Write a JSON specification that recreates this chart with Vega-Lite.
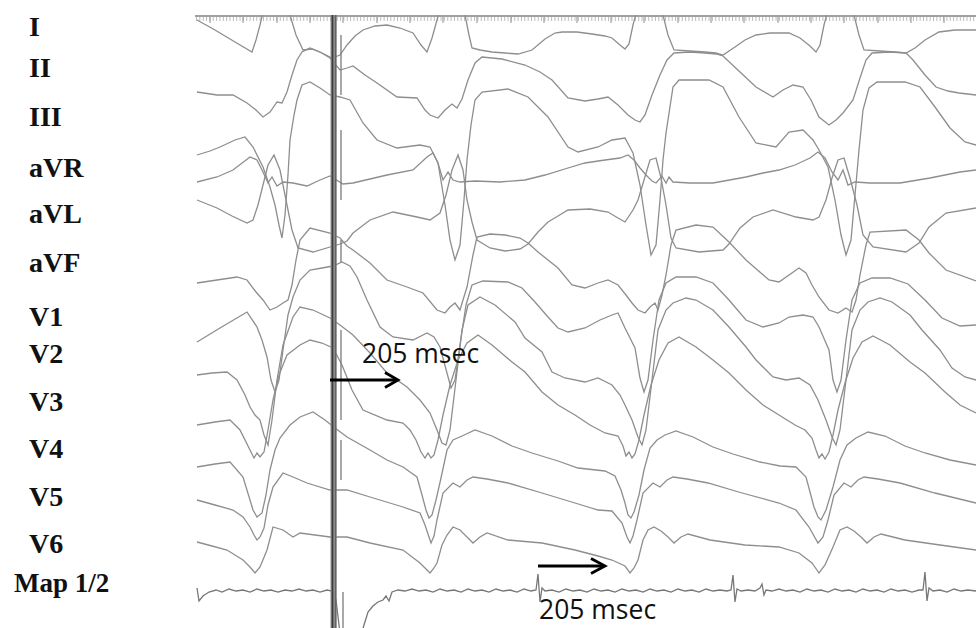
{
"$schema": "https://vega.github.io/schema/vega-lite/v6.json",
"width": 781, "height": 613,
"autosize": {"type": "none"},
"padding": {"left": 195, "top": 15, "right": 0, "bottom": 0},
"background": "white",
"config": {"view": {"stroke": null}},
"data": {"values": [{"one": 1}]},
"datasets": {
"ecg": [
{"s":"I","t":197,"v":20},{"s":"I","t":215,"v":30},{"s":"I","t":235,"v":42},{"s":"I","t":252,"v":52},{"s":"I","t":256,"v":40},{"s":"I","t":260,"v":25},{"s":"I","t":264,"v":8},{"s":"I","t":268,"v":-5},{"s":"I","t":284,"v":-5},{"s":"I","t":290,"v":15},{"s":"I","t":296,"v":35},{"s":"I","t":303,"v":50},{"s":"I","t":312,"v":49},{"s":"I","t":322,"v":53},{"s":"I","t":332,"v":58},{"s":"I","t":340,"v":55},{"s":"I","t":347,"v":45},{"s":"I","t":355,"v":36},{"s":"I","t":363,"v":30},{"s":"I","t":375,"v":26},{"s":"I","t":387,"v":25},{"s":"I","t":400,"v":28},{"s":"I","t":413,"v":33},{"s":"I","t":421,"v":45},{"s":"I","t":427,"v":52},{"s":"I","t":432,"v":38},{"s":"I","t":437,"v":20},{"s":"I","t":441,"v":5},{"s":"I","t":445,"v":-5},{"s":"I","t":460,"v":-5},{"s":"I","t":465,"v":15},{"s":"I","t":469,"v":35},{"s":"I","t":472,"v":48},{"s":"I","t":480,"v":50},{"s":"I","t":492,"v":52},{"s":"I","t":505,"v":53},{"s":"I","t":518,"v":54},{"s":"I","t":532,"v":50},{"s":"I","t":545,"v":39},{"s":"I","t":555,"v":33},{"s":"I","t":562,"v":32},{"s":"I","t":577,"v":32},{"s":"I","t":592,"v":34},{"s":"I","t":605,"v":36},{"s":"I","t":612,"v":38},{"s":"I","t":620,"v":45},{"s":"I","t":625,"v":49},{"s":"I","t":629,"v":44},{"s":"I","t":633,"v":25},{"s":"I","t":637,"v":10},{"s":"I","t":640,"v":-5},{"s":"I","t":657,"v":-5},{"s":"I","t":663,"v":15},{"s":"I","t":668,"v":35},{"s":"I","t":674,"v":50},{"s":"I","t":690,"v":51},{"s":"I","t":705,"v":52},{"s":"I","t":716,"v":53},{"s":"I","t":723,"v":55},{"s":"I","t":735,"v":47},{"s":"I","t":745,"v":40},{"s":"I","t":756,"v":35},{"s":"I","t":770,"v":33},{"s":"I","t":789,"v":33},{"s":"I","t":800,"v":38},{"s":"I","t":810,"v":46},{"s":"I","t":816,"v":52},{"s":"I","t":820,"v":45},{"s":"I","t":824,"v":25},{"s":"I","t":828,"v":10},{"s":"I","t":831,"v":-5},{"s":"I","t":850,"v":-5},{"s":"I","t":854,"v":15},{"s":"I","t":859,"v":35},{"s":"I","t":864,"v":50},{"s":"I","t":880,"v":51},{"s":"I","t":895,"v":52},{"s":"I","t":906,"v":53},{"s":"I","t":915,"v":48},{"s":"I","t":925,"v":40},{"s":"I","t":939,"v":32},{"s":"I","t":955,"v":30},{"s":"I","t":976,"v":30},
{"s":"II","t":197,"v":92},{"s":"II","t":217,"v":95},{"s":"II","t":233,"v":95},{"s":"II","t":247,"v":103},{"s":"II","t":256,"v":110},{"s":"II","t":263,"v":117},{"s":"II","t":270,"v":112},{"s":"II","t":277,"v":102},{"s":"II","t":282,"v":103},{"s":"II","t":287,"v":92},{"s":"II","t":292,"v":75},{"s":"II","t":297,"v":60},{"s":"II","t":302,"v":52},{"s":"II","t":310,"v":48},{"s":"II","t":320,"v":52},{"s":"II","t":330,"v":58},{"s":"II","t":340,"v":70},{"s":"II","t":347,"v":68},{"s":"II","t":353,"v":66},{"s":"II","t":365,"v":75},{"s":"II","t":377,"v":83},{"s":"II","t":397,"v":97},{"s":"II","t":417,"v":98},{"s":"II","t":425,"v":110},{"s":"II","t":430,"v":115},{"s":"II","t":438,"v":118},{"s":"II","t":445,"v":110},{"s":"II","t":452,"v":104},{"s":"II","t":457,"v":108},{"s":"II","t":462,"v":99},{"s":"II","t":468,"v":80},{"s":"II","t":475,"v":63},{"s":"II","t":482,"v":57},{"s":"II","t":502,"v":59},{"s":"II","t":525,"v":65},{"s":"II","t":540,"v":72},{"s":"II","t":552,"v":80},{"s":"II","t":568,"v":98},{"s":"II","t":585,"v":101},{"s":"II","t":598,"v":99},{"s":"II","t":608,"v":97},{"s":"II","t":618,"v":105},{"s":"II","t":628,"v":115},{"s":"II","t":635,"v":120},{"s":"II","t":640,"v":122},{"s":"II","t":645,"v":115},{"s":"II","t":652,"v":95},{"s":"II","t":660,"v":75},{"s":"II","t":667,"v":60},{"s":"II","t":674,"v":53},{"s":"II","t":690,"v":52},{"s":"II","t":705,"v":53},{"s":"II","t":716,"v":54},{"s":"II","t":723,"v":56},{"s":"II","t":740,"v":72},{"s":"II","t":756,"v":87},{"s":"II","t":773,"v":97},{"s":"II","t":783,"v":90},{"s":"II","t":793,"v":85},{"s":"II","t":803,"v":87},{"s":"II","t":811,"v":100},{"s":"II","t":819,"v":117},{"s":"II","t":829,"v":125},{"s":"II","t":836,"v":120},{"s":"II","t":843,"v":113},{"s":"II","t":853,"v":100},{"s":"II","t":860,"v":78},{"s":"II","t":866,"v":60},{"s":"II","t":872,"v":53},{"s":"II","t":890,"v":52},{"s":"II","t":906,"v":53},{"s":"II","t":913,"v":60},{"s":"II","t":925,"v":75},{"s":"II","t":936,"v":87},{"s":"II","t":948,"v":91},{"s":"II","t":959,"v":93},{"s":"II","t":976,"v":95},
{"s":"III","t":197,"v":155},{"s":"III","t":210,"v":151},{"s":"III","t":220,"v":147},{"s":"III","t":235,"v":140},{"s":"III","t":245,"v":137},{"s":"III","t":253,"v":147},{"s":"III","t":263,"v":167},{"s":"III","t":270,"v":187},{"s":"III","t":275,"v":205},{"s":"III","t":279,"v":225},{"s":"III","t":282,"v":238},{"s":"III","t":285,"v":215},{"s":"III","t":288,"v":175},{"s":"III","t":290,"v":140},{"s":"III","t":294,"v":115},{"s":"III","t":297,"v":100},{"s":"III","t":302,"v":85},{"s":"III","t":310,"v":82},{"s":"III","t":320,"v":88},{"s":"III","t":330,"v":95},{"s":"III","t":340,"v":97},{"s":"III","t":350,"v":100},{"s":"III","t":363,"v":123},{"s":"III","t":377,"v":140},{"s":"III","t":397,"v":148},{"s":"III","t":420,"v":145},{"s":"III","t":430,"v":147},{"s":"III","t":438,"v":163},{"s":"III","t":445,"v":205},{"s":"III","t":450,"v":240},{"s":"III","t":455,"v":260},{"s":"III","t":460,"v":245},{"s":"III","t":464,"v":200},{"s":"III","t":467,"v":160},{"s":"III","t":471,"v":125},{"s":"III","t":475,"v":100},{"s":"III","t":482,"v":92},{"s":"III","t":508,"v":89},{"s":"III","t":528,"v":97},{"s":"III","t":548,"v":117},{"s":"III","t":568,"v":147},{"s":"III","t":578,"v":152},{"s":"III","t":598,"v":147},{"s":"III","t":612,"v":140},{"s":"III","t":625,"v":138},{"s":"III","t":633,"v":153},{"s":"III","t":640,"v":185},{"s":"III","t":646,"v":225},{"s":"III","t":651,"v":255},{"s":"III","t":656,"v":245},{"s":"III","t":660,"v":200},{"s":"III","t":663,"v":160},{"s":"III","t":666,"v":133},{"s":"III","t":673,"v":87},{"s":"III","t":679,"v":80},{"s":"III","t":709,"v":80},{"s":"III","t":723,"v":87},{"s":"III","t":739,"v":117},{"s":"III","t":756,"v":143},{"s":"III","t":776,"v":147},{"s":"III","t":789,"v":132},{"s":"III","t":803,"v":130},{"s":"III","t":813,"v":140},{"s":"III","t":819,"v":150},{"s":"III","t":828,"v":167},{"s":"III","t":835,"v":200},{"s":"III","t":841,"v":235},{"s":"III","t":846,"v":255},{"s":"III","t":851,"v":240},{"s":"III","t":855,"v":195},{"s":"III","t":859,"v":150},{"s":"III","t":863,"v":110},{"s":"III","t":869,"v":88},{"s":"III","t":877,"v":82},{"s":"III","t":905,"v":82},{"s":"III","t":920,"v":87},{"s":"III","t":935,"v":107},{"s":"III","t":950,"v":128},{"s":"III","t":965,"v":142},{"s":"III","t":976,"v":145},
{"s":"aVR","t":197,"v":182},{"s":"aVR","t":217,"v":177},{"s":"aVR","t":233,"v":170},{"s":"aVR","t":250,"v":157},{"s":"aVR","t":257,"v":160},{"s":"aVR","t":263,"v":172},{"s":"aVR","t":268,"v":183},{"s":"aVR","t":272,"v":177},{"s":"aVR","t":277,"v":186},{"s":"aVR","t":283,"v":182},{"s":"aVR","t":293,"v":183},{"s":"aVR","t":307,"v":186},{"s":"aVR","t":320,"v":180},{"s":"aVR","t":330,"v":176},{"s":"aVR","t":343,"v":184},{"s":"aVR","t":353,"v":183},{"s":"aVR","t":370,"v":179},{"s":"aVR","t":387,"v":175},{"s":"aVR","t":413,"v":170},{"s":"aVR","t":427,"v":157},{"s":"aVR","t":433,"v":153},{"s":"aVR","t":438,"v":163},{"s":"aVR","t":443,"v":180},{"s":"aVR","t":448,"v":172},{"s":"aVR","t":453,"v":180},{"s":"aVR","t":460,"v":182},{"s":"aVR","t":475,"v":181},{"s":"aVR","t":500,"v":182},{"s":"aVR","t":525,"v":180},{"s":"aVR","t":545,"v":175},{"s":"aVR","t":568,"v":168},{"s":"aVR","t":585,"v":163},{"s":"aVR","t":605,"v":160},{"s":"aVR","t":620,"v":158},{"s":"aVR","t":628,"v":155},{"s":"aVR","t":634,"v":160},{"s":"aVR","t":640,"v":168},{"s":"aVR","t":646,"v":175},{"s":"aVR","t":652,"v":181},{"s":"aVR","t":656,"v":183},{"s":"aVR","t":662,"v":176},{"s":"aVR","t":666,"v":183},{"s":"aVR","t":669,"v":177},{"s":"aVR","t":673,"v":182},{"s":"aVR","t":690,"v":183},{"s":"aVR","t":713,"v":183},{"s":"aVR","t":746,"v":177},{"s":"aVR","t":763,"v":173},{"s":"aVR","t":779,"v":170},{"s":"aVR","t":795,"v":165},{"s":"aVR","t":810,"v":158},{"s":"aVR","t":818,"v":152},{"s":"aVR","t":825,"v":158},{"s":"aVR","t":832,"v":172},{"s":"aVR","t":838,"v":180},{"s":"aVR","t":843,"v":170},{"s":"aVR","t":848,"v":185},{"s":"aVR","t":855,"v":182},{"s":"aVR","t":870,"v":183},{"s":"aVR","t":900,"v":183},{"s":"aVR","t":930,"v":178},{"s":"aVR","t":960,"v":172},{"s":"aVR","t":976,"v":170},
{"s":"aVL","t":197,"v":200},{"s":"aVL","t":217,"v":208},{"s":"aVL","t":232,"v":216},{"s":"aVL","t":247,"v":223},{"s":"aVL","t":253,"v":220},{"s":"aVL","t":258,"v":205},{"s":"aVL","t":263,"v":185},{"s":"aVL","t":268,"v":165},{"s":"aVL","t":274,"v":155},{"s":"aVL","t":280,"v":170},{"s":"aVL","t":286,"v":200},{"s":"aVL","t":292,"v":230},{"s":"aVL","t":298,"v":248},{"s":"aVL","t":313,"v":252},{"s":"aVL","t":330,"v":247},{"s":"aVL","t":340,"v":244},{"s":"aVL","t":347,"v":241},{"s":"aVL","t":353,"v":233},{"s":"aVL","t":370,"v":220},{"s":"aVL","t":393,"v":212},{"s":"aVL","t":417,"v":217},{"s":"aVL","t":430,"v":220},{"s":"aVL","t":440,"v":213},{"s":"aVL","t":446,"v":195},{"s":"aVL","t":452,"v":170},{"s":"aVL","t":458,"v":155},{"s":"aVL","t":463,"v":170},{"s":"aVL","t":467,"v":200},{"s":"aVL","t":472,"v":222},{"s":"aVL","t":477,"v":240},{"s":"aVL","t":490,"v":248},{"s":"aVL","t":505,"v":251},{"s":"aVL","t":520,"v":249},{"s":"aVL","t":528,"v":244},{"s":"aVL","t":538,"v":232},{"s":"aVL","t":548,"v":222},{"s":"aVL","t":558,"v":216},{"s":"aVL","t":568,"v":210},{"s":"aVL","t":590,"v":209},{"s":"aVL","t":608,"v":212},{"s":"aVL","t":618,"v":218},{"s":"aVL","t":625,"v":222},{"s":"aVL","t":633,"v":210},{"s":"aVL","t":638,"v":200},{"s":"aVL","t":644,"v":180},{"s":"aVL","t":650,"v":160},{"s":"aVL","t":656,"v":158},{"s":"aVL","t":661,"v":178},{"s":"aVL","t":666,"v":205},{"s":"aVL","t":671,"v":238},{"s":"aVL","t":676,"v":248},{"s":"aVL","t":699,"v":252},{"s":"aVL","t":723,"v":250},{"s":"aVL","t":729,"v":244},{"s":"aVL","t":740,"v":228},{"s":"aVL","t":753,"v":217},{"s":"aVL","t":773,"v":210},{"s":"aVL","t":796,"v":217},{"s":"aVL","t":813,"v":220},{"s":"aVL","t":819,"v":217},{"s":"aVL","t":826,"v":200},{"s":"aVL","t":832,"v":178},{"s":"aVL","t":838,"v":160},{"s":"aVL","t":844,"v":158},{"s":"aVL","t":850,"v":178},{"s":"aVL","t":857,"v":205},{"s":"aVL","t":863,"v":235},{"s":"aVL","t":873,"v":247},{"s":"aVL","t":906,"v":252},{"s":"aVL","t":919,"v":243},{"s":"aVL","t":929,"v":227},{"s":"aVL","t":946,"v":213},{"s":"aVL","t":976,"v":208},
{"s":"aVF","t":197,"v":283},{"s":"aVF","t":217,"v":280},{"s":"aVF","t":237,"v":277},{"s":"aVF","t":247,"v":280},{"s":"aVF","t":256,"v":292},{"s":"aVF","t":263,"v":300},{"s":"aVF","t":270,"v":310},{"s":"aVF","t":277,"v":307},{"s":"aVF","t":283,"v":303},{"s":"aVF","t":288,"v":300},{"s":"aVF","t":292,"v":285},{"s":"aVF","t":296,"v":260},{"s":"aVF","t":300,"v":240},{"s":"aVF","t":310,"v":228},{"s":"aVF","t":330,"v":233},{"s":"aVF","t":340,"v":238},{"s":"aVF","t":347,"v":246},{"s":"aVF","t":353,"v":250},{"s":"aVF","t":370,"v":263},{"s":"aVF","t":387,"v":280},{"s":"aVF","t":407,"v":287},{"s":"aVF","t":423,"v":293},{"s":"aVF","t":437,"v":310},{"s":"aVF","t":445,"v":313},{"s":"aVF","t":450,"v":307},{"s":"aVF","t":455,"v":303},{"s":"aVF","t":460,"v":310},{"s":"aVF","t":463,"v":300},{"s":"aVF","t":467,"v":287},{"s":"aVF","t":473,"v":255},{"s":"aVF","t":477,"v":237},{"s":"aVF","t":490,"v":234},{"s":"aVF","t":505,"v":235},{"s":"aVF","t":520,"v":238},{"s":"aVF","t":528,"v":243},{"s":"aVF","t":538,"v":252},{"s":"aVF","t":558,"v":268},{"s":"aVF","t":572,"v":285},{"s":"aVF","t":585,"v":288},{"s":"aVF","t":598,"v":283},{"s":"aVF","t":608,"v":280},{"s":"aVF","t":618,"v":285},{"s":"aVF","t":626,"v":295},{"s":"aVF","t":632,"v":303},{"s":"aVF","t":638,"v":310},{"s":"aVF","t":645,"v":313},{"s":"aVF","t":650,"v":307},{"s":"aVF","t":655,"v":303},{"s":"aVF","t":658,"v":310},{"s":"aVF","t":662,"v":295},{"s":"aVF","t":666,"v":275},{"s":"aVF","t":671,"v":245},{"s":"aVF","t":676,"v":230},{"s":"aVF","t":696,"v":225},{"s":"aVF","t":713,"v":227},{"s":"aVF","t":729,"v":242},{"s":"aVF","t":746,"v":260},{"s":"aVF","t":769,"v":280},{"s":"aVF","t":779,"v":282},{"s":"aVF","t":799,"v":268},{"s":"aVF","t":806,"v":273},{"s":"aVF","t":812,"v":285},{"s":"aVF","t":819,"v":297},{"s":"aVF","t":829,"v":310},{"s":"aVF","t":838,"v":313},{"s":"aVF","t":846,"v":308},{"s":"aVF","t":852,"v":312},{"s":"aVF","t":856,"v":300},{"s":"aVF","t":860,"v":275},{"s":"aVF","t":866,"v":245},{"s":"aVF","t":870,"v":232},{"s":"aVF","t":906,"v":230},{"s":"aVF","t":919,"v":240},{"s":"aVF","t":929,"v":253},{"s":"aVF","t":946,"v":270},{"s":"aVF","t":976,"v":281},
{"s":"V1","t":197,"v":342},{"s":"V1","t":220,"v":328},{"s":"V1","t":247,"v":312},{"s":"V1","t":257,"v":327},{"s":"V1","t":262,"v":340},{"s":"V1","t":267,"v":357},{"s":"V1","t":271,"v":380},{"s":"V1","t":275,"v":392},{"s":"V1","t":279,"v":380},{"s":"V1","t":283,"v":350},{"s":"V1","t":288,"v":315},{"s":"V1","t":293,"v":297},{"s":"V1","t":300,"v":280},{"s":"V1","t":310,"v":270},{"s":"V1","t":322,"v":268},{"s":"V1","t":333,"v":266},{"s":"V1","t":342,"v":262},{"s":"V1","t":350,"v":266},{"s":"V1","t":357,"v":277},{"s":"V1","t":367,"v":300},{"s":"V1","t":380,"v":327},{"s":"V1","t":393,"v":337},{"s":"V1","t":413,"v":340},{"s":"V1","t":427,"v":333},{"s":"V1","t":434,"v":337},{"s":"V1","t":440,"v":347},{"s":"V1","t":447,"v":373},{"s":"V1","t":451,"v":388},{"s":"V1","t":455,"v":380},{"s":"V1","t":460,"v":345},{"s":"V1","t":466,"v":305},{"s":"V1","t":472,"v":285},{"s":"V1","t":483,"v":281},{"s":"V1","t":508,"v":282},{"s":"V1","t":522,"v":288},{"s":"V1","t":535,"v":302},{"s":"V1","t":548,"v":317},{"s":"V1","t":558,"v":328},{"s":"V1","t":568,"v":332},{"s":"V1","t":585,"v":328},{"s":"V1","t":600,"v":320},{"s":"V1","t":612,"v":315},{"s":"V1","t":618,"v":313},{"s":"V1","t":625,"v":328},{"s":"V1","t":635,"v":348},{"s":"V1","t":640,"v":378},{"s":"V1","t":644,"v":392},{"s":"V1","t":648,"v":380},{"s":"V1","t":653,"v":340},{"s":"V1","t":659,"v":300},{"s":"V1","t":666,"v":283},{"s":"V1","t":676,"v":277},{"s":"V1","t":696,"v":277},{"s":"V1","t":713,"v":283},{"s":"V1","t":729,"v":300},{"s":"V1","t":746,"v":320},{"s":"V1","t":763,"v":327},{"s":"V1","t":779,"v":323},{"s":"V1","t":789,"v":317},{"s":"V1","t":803,"v":315},{"s":"V1","t":813,"v":317},{"s":"V1","t":819,"v":327},{"s":"V1","t":829,"v":350},{"s":"V1","t":833,"v":380},{"s":"V1","t":837,"v":392},{"s":"V1","t":841,"v":380},{"s":"V1","t":846,"v":340},{"s":"V1","t":852,"v":300},{"s":"V1","t":860,"v":283},{"s":"V1","t":872,"v":278},{"s":"V1","t":890,"v":278},{"s":"V1","t":908,"v":284},{"s":"V1","t":925,"v":300},{"s":"V1","t":942,"v":318},{"s":"V1","t":960,"v":326},{"s":"V1","t":976,"v":325},
{"s":"V2","t":197,"v":375},{"s":"V2","t":212,"v":373},{"s":"V2","t":227,"v":372},{"s":"V2","t":237,"v":380},{"s":"V2","t":245,"v":395},{"s":"V2","t":250,"v":407},{"s":"V2","t":255,"v":415},{"s":"V2","t":260,"v":420},{"s":"V2","t":264,"v":435},{"s":"V2","t":268,"v":445},{"s":"V2","t":272,"v":420},{"s":"V2","t":277,"v":380},{"s":"V2","t":283,"v":345},{"s":"V2","t":293,"v":317},{"s":"V2","t":300,"v":307},{"s":"V2","t":313,"v":310},{"s":"V2","t":330,"v":318},{"s":"V2","t":340,"v":325},{"s":"V2","t":353,"v":335},{"s":"V2","t":370,"v":353},{"s":"V2","t":387,"v":373},{"s":"V2","t":407,"v":387},{"s":"V2","t":420,"v":400},{"s":"V2","t":430,"v":413},{"s":"V2","t":437,"v":430},{"s":"V2","t":442,"v":443},{"s":"V2","t":446,"v":445},{"s":"V2","t":450,"v":430},{"s":"V2","t":456,"v":380},{"s":"V2","t":462,"v":330},{"s":"V2","t":468,"v":305},{"s":"V2","t":480,"v":297},{"s":"V2","t":495,"v":305},{"s":"V2","t":515,"v":322},{"s":"V2","t":525,"v":338},{"s":"V2","t":542,"v":352},{"s":"V2","t":552,"v":372},{"s":"V2","t":565,"v":378},{"s":"V2","t":585,"v":382},{"s":"V2","t":598,"v":378},{"s":"V2","t":612,"v":385},{"s":"V2","t":620,"v":395},{"s":"V2","t":625,"v":405},{"s":"V2","t":632,"v":420},{"s":"V2","t":638,"v":437},{"s":"V2","t":642,"v":445},{"s":"V2","t":646,"v":430},{"s":"V2","t":652,"v":380},{"s":"V2","t":658,"v":330},{"s":"V2","t":666,"v":310},{"s":"V2","t":673,"v":303},{"s":"V2","t":686,"v":298},{"s":"V2","t":696,"v":300},{"s":"V2","t":713,"v":310},{"s":"V2","t":729,"v":327},{"s":"V2","t":746,"v":347},{"s":"V2","t":756,"v":360},{"s":"V2","t":773,"v":377},{"s":"V2","t":786,"v":380},{"s":"V2","t":799,"v":378},{"s":"V2","t":810,"v":385},{"s":"V2","t":818,"v":400},{"s":"V2","t":826,"v":420},{"s":"V2","t":832,"v":437},{"s":"V2","t":836,"v":445},{"s":"V2","t":840,"v":430},{"s":"V2","t":846,"v":380},{"s":"V2","t":852,"v":330},{"s":"V2","t":860,"v":310},{"s":"V2","t":868,"v":302},{"s":"V2","t":880,"v":298},{"s":"V2","t":892,"v":302},{"s":"V2","t":910,"v":315},{"s":"V2","t":922,"v":330},{"s":"V2","t":940,"v":350},{"s":"V2","t":952,"v":368},{"s":"V2","t":965,"v":377},{"s":"V2","t":976,"v":380},
{"s":"V3","t":197,"v":425},{"s":"V3","t":215,"v":422},{"s":"V3","t":230,"v":420},{"s":"V3","t":240,"v":430},{"s":"V3","t":250,"v":450},{"s":"V3","t":254,"v":458},{"s":"V3","t":257,"v":453},{"s":"V3","t":260,"v":457},{"s":"V3","t":264,"v":452},{"s":"V3","t":268,"v":430},{"s":"V3","t":273,"v":400},{"s":"V3","t":279,"v":375},{"s":"V3","t":287,"v":355},{"s":"V3","t":300,"v":345},{"s":"V3","t":310,"v":340},{"s":"V3","t":322,"v":343},{"s":"V3","t":333,"v":348},{"s":"V3","t":342,"v":365},{"s":"V3","t":352,"v":390},{"s":"V3","t":363,"v":410},{"s":"V3","t":387,"v":420},{"s":"V3","t":403,"v":423},{"s":"V3","t":410,"v":430},{"s":"V3","t":416,"v":440},{"s":"V3","t":421,"v":452},{"s":"V3","t":425,"v":458},{"s":"V3","t":428,"v":453},{"s":"V3","t":431,"v":458},{"s":"V3","t":434,"v":455},{"s":"V3","t":438,"v":440},{"s":"V3","t":443,"v":415},{"s":"V3","t":450,"v":385},{"s":"V3","t":458,"v":360},{"s":"V3","t":467,"v":343},{"s":"V3","t":478,"v":335},{"s":"V3","t":492,"v":345},{"s":"V3","t":512,"v":362},{"s":"V3","t":525,"v":372},{"s":"V3","t":542,"v":392},{"s":"V3","t":558,"v":405},{"s":"V3","t":575,"v":415},{"s":"V3","t":590,"v":425},{"s":"V3","t":605,"v":433},{"s":"V3","t":618,"v":436},{"s":"V3","t":623,"v":446},{"s":"V3","t":626,"v":456},{"s":"V3","t":629,"v":452},{"s":"V3","t":632,"v":458},{"s":"V3","t":635,"v":454},{"s":"V3","t":639,"v":440},{"s":"V3","t":644,"v":415},{"s":"V3","t":651,"v":385},{"s":"V3","t":659,"v":360},{"s":"V3","t":668,"v":343},{"s":"V3","t":679,"v":337},{"s":"V3","t":696,"v":347},{"s":"V3","t":713,"v":360},{"s":"V3","t":729,"v":373},{"s":"V3","t":746,"v":390},{"s":"V3","t":763,"v":405},{"s":"V3","t":779,"v":415},{"s":"V3","t":795,"v":425},{"s":"V3","t":805,"v":430},{"s":"V3","t":812,"v":438},{"s":"V3","t":816,"v":450},{"s":"V3","t":819,"v":458},{"s":"V3","t":822,"v":454},{"s":"V3","t":825,"v":459},{"s":"V3","t":829,"v":452},{"s":"V3","t":833,"v":435},{"s":"V3","t":838,"v":410},{"s":"V3","t":845,"v":383},{"s":"V3","t":853,"v":358},{"s":"V3","t":862,"v":342},{"s":"V3","t":873,"v":336},{"s":"V3","t":890,"v":345},{"s":"V3","t":910,"v":362},{"s":"V3","t":925,"v":373},{"s":"V3","t":945,"v":392},{"s":"V3","t":960,"v":405},{"s":"V3","t":976,"v":413},
{"s":"V4","t":197,"v":467},{"s":"V4","t":215,"v":464},{"s":"V4","t":230,"v":462},{"s":"V4","t":243,"v":477},{"s":"V4","t":250,"v":500},{"s":"V4","t":253,"v":510},{"s":"V4","t":257,"v":517},{"s":"V4","t":262,"v":513},{"s":"V4","t":266,"v":495},{"s":"V4","t":270,"v":470},{"s":"V4","t":275,"v":450},{"s":"V4","t":280,"v":438},{"s":"V4","t":290,"v":425},{"s":"V4","t":300,"v":417},{"s":"V4","t":313,"v":412},{"s":"V4","t":325,"v":420},{"s":"V4","t":335,"v":428},{"s":"V4","t":347,"v":437},{"s":"V4","t":370,"v":450},{"s":"V4","t":387,"v":460},{"s":"V4","t":403,"v":467},{"s":"V4","t":417,"v":477},{"s":"V4","t":422,"v":495},{"s":"V4","t":426,"v":510},{"s":"V4","t":429,"v":518},{"s":"V4","t":432,"v":515},{"s":"V4","t":436,"v":500},{"s":"V4","t":441,"v":478},{"s":"V4","t":447,"v":450},{"s":"V4","t":453,"v":440},{"s":"V4","t":462,"v":436},{"s":"V4","t":475,"v":430},{"s":"V4","t":492,"v":436},{"s":"V4","t":512,"v":446},{"s":"V4","t":532,"v":453},{"s":"V4","t":558,"v":461},{"s":"V4","t":578,"v":468},{"s":"V4","t":605,"v":471},{"s":"V4","t":615,"v":476},{"s":"V4","t":621,"v":490},{"s":"V4","t":625,"v":503},{"s":"V4","t":628,"v":515},{"s":"V4","t":631,"v":518},{"s":"V4","t":634,"v":512},{"s":"V4","t":639,"v":495},{"s":"V4","t":644,"v":470},{"s":"V4","t":650,"v":448},{"s":"V4","t":657,"v":440},{"s":"V4","t":665,"v":435},{"s":"V4","t":676,"v":431},{"s":"V4","t":693,"v":437},{"s":"V4","t":713,"v":447},{"s":"V4","t":733,"v":454},{"s":"V4","t":760,"v":462},{"s":"V4","t":780,"v":466},{"s":"V4","t":796,"v":467},{"s":"V4","t":806,"v":477},{"s":"V4","t":814,"v":507},{"s":"V4","t":818,"v":517},{"s":"V4","t":821,"v":520},{"s":"V4","t":826,"v":510},{"s":"V4","t":833,"v":487},{"s":"V4","t":840,"v":460},{"s":"V4","t":847,"v":445},{"s":"V4","t":856,"v":438},{"s":"V4","t":868,"v":432},{"s":"V4","t":885,"v":436},{"s":"V4","t":905,"v":446},{"s":"V4","t":925,"v":453},{"s":"V4","t":950,"v":460},{"s":"V4","t":976,"v":465},
{"s":"V5","t":197,"v":500},{"s":"V5","t":215,"v":505},{"s":"V5","t":233,"v":510},{"s":"V5","t":243,"v":517},{"s":"V5","t":250,"v":527},{"s":"V5","t":254,"v":535},{"s":"V5","t":257,"v":540},{"s":"V5","t":260,"v":537},{"s":"V5","t":264,"v":528},{"s":"V5","t":268,"v":505},{"s":"V5","t":273,"v":487},{"s":"V5","t":283,"v":473},{"s":"V5","t":293,"v":477},{"s":"V5","t":307,"v":483},{"s":"V5","t":330,"v":490},{"s":"V5","t":347,"v":490},{"s":"V5","t":370,"v":497},{"s":"V5","t":403,"v":507},{"s":"V5","t":420,"v":513},{"s":"V5","t":425,"v":525},{"s":"V5","t":429,"v":537},{"s":"V5","t":431,"v":543},{"s":"V5","t":434,"v":536},{"s":"V5","t":437,"v":520},{"s":"V5","t":443,"v":493},{"s":"V5","t":453,"v":483},{"s":"V5","t":460,"v":487},{"s":"V5","t":467,"v":480},{"s":"V5","t":473,"v":477},{"s":"V5","t":487,"v":479},{"s":"V5","t":508,"v":483},{"s":"V5","t":542,"v":493},{"s":"V5","t":575,"v":503},{"s":"V5","t":598,"v":510},{"s":"V5","t":612,"v":511},{"s":"V5","t":622,"v":523},{"s":"V5","t":627,"v":537},{"s":"V5","t":630,"v":543},{"s":"V5","t":633,"v":536},{"s":"V5","t":637,"v":520},{"s":"V5","t":643,"v":493},{"s":"V5","t":653,"v":483},{"s":"V5","t":660,"v":487},{"s":"V5","t":667,"v":480},{"s":"V5","t":673,"v":477},{"s":"V5","t":687,"v":479},{"s":"V5","t":708,"v":483},{"s":"V5","t":742,"v":493},{"s":"V5","t":779,"v":503},{"s":"V5","t":796,"v":510},{"s":"V5","t":809,"v":527},{"s":"V5","t":818,"v":543},{"s":"V5","t":823,"v":537},{"s":"V5","t":828,"v":520},{"s":"V5","t":834,"v":495},{"s":"V5","t":844,"v":483},{"s":"V5","t":851,"v":487},{"s":"V5","t":858,"v":480},{"s":"V5","t":864,"v":477},{"s":"V5","t":878,"v":479},{"s":"V5","t":900,"v":483},{"s":"V5","t":935,"v":493},{"s":"V5","t":976,"v":503},
{"s":"V6","t":197,"v":542},{"s":"V6","t":212,"v":546},{"s":"V6","t":227,"v":550},{"s":"V6","t":243,"v":560},{"s":"V6","t":250,"v":567},{"s":"V6","t":255,"v":573},{"s":"V6","t":260,"v":567},{"s":"V6","t":267,"v":550},{"s":"V6","t":273,"v":527},{"s":"V6","t":283,"v":530},{"s":"V6","t":293,"v":537},{"s":"V6","t":300,"v":533},{"s":"V6","t":315,"v":535},{"s":"V6","t":330,"v":537},{"s":"V6","t":347,"v":537},{"s":"V6","t":370,"v":543},{"s":"V6","t":403,"v":550},{"s":"V6","t":420,"v":563},{"s":"V6","t":427,"v":570},{"s":"V6","t":430,"v":573},{"s":"V6","t":434,"v":568},{"s":"V6","t":437,"v":563},{"s":"V6","t":442,"v":545},{"s":"V6","t":447,"v":535},{"s":"V6","t":453,"v":527},{"s":"V6","t":460,"v":530},{"s":"V6","t":467,"v":537},{"s":"V6","t":473,"v":543},{"s":"V6","t":480,"v":537},{"s":"V6","t":487,"v":533},{"s":"V6","t":508,"v":540},{"s":"V6","t":542,"v":543},{"s":"V6","t":575,"v":550},{"s":"V6","t":598,"v":556},{"s":"V6","t":612,"v":560},{"s":"V6","t":625,"v":566},{"s":"V6","t":630,"v":573},{"s":"V6","t":634,"v":568},{"s":"V6","t":638,"v":560},{"s":"V6","t":643,"v":540},{"s":"V6","t":648,"v":530},{"s":"V6","t":654,"v":527},{"s":"V6","t":661,"v":531},{"s":"V6","t":668,"v":537},{"s":"V6","t":674,"v":543},{"s":"V6","t":681,"v":537},{"s":"V6","t":688,"v":534},{"s":"V6","t":710,"v":540},{"s":"V6","t":745,"v":545},{"s":"V6","t":779,"v":547},{"s":"V6","t":799,"v":553},{"s":"V6","t":812,"v":563},{"s":"V6","t":819,"v":573},{"s":"V6","t":825,"v":565},{"s":"V6","t":833,"v":547},{"s":"V6","t":840,"v":530},{"s":"V6","t":847,"v":527},{"s":"V6","t":854,"v":531},{"s":"V6","t":861,"v":537},{"s":"V6","t":867,"v":543},{"s":"V6","t":874,"v":537},{"s":"V6","t":881,"v":534},{"s":"V6","t":905,"v":540},{"s":"V6","t":940,"v":545},{"s":"V6","t":976,"v":550}
],
"map": [
{"t":197,"v":588},{"t":199,"v":601},{"t":203,"v":596},{"t":209,"v":592},{"t":216,"v":590},{"t":222,"v":592},{"t":229,"v":589},{"t":236,"v":591},{"t":243,"v":590},{"t":250,"v":592},{"t":257,"v":589},{"t":264,"v":591},{"t":271,"v":590},{"t":278,"v":592},{"t":285,"v":590},{"t":292,"v":591},{"t":299,"v":589},{"t":306,"v":591},{"t":313,"v":590},{"t":320,"v":592},{"t":327,"v":590},{"t":332,"v":591},{"t":336,"v":600},{"t":339,"v":625},{"t":341,"v":640},{"t":360,"v":640},{"t":364,"v":625},{"t":368,"v":612},{"t":373,"v":606},{"t":378,"v":602},{"t":383,"v":600},{"t":386,"v":596},{"t":389,"v":601},{"t":392,"v":592},{"t":398,"v":590},{"t":405,"v":591},{"t":412,"v":589},{"t":419,"v":591},{"t":426,"v":590},{"t":433,"v":592},{"t":440,"v":589},{"t":447,"v":591},{"t":454,"v":590},{"t":461,"v":592},{"t":468,"v":589},{"t":475,"v":591},{"t":482,"v":590},{"t":489,"v":592},{"t":496,"v":589},{"t":503,"v":591},{"t":510,"v":590},{"t":517,"v":592},{"t":524,"v":589},{"t":531,"v":591},{"t":536,"v":590},{"t":538,"v":574},{"t":540,"v":602},{"t":542,"v":588},{"t":545,"v":591},{"t":552,"v":590},{"t":559,"v":592},{"t":566,"v":589},{"t":573,"v":591},{"t":580,"v":590},{"t":587,"v":592},{"t":594,"v":589},{"t":601,"v":591},{"t":608,"v":590},{"t":615,"v":592},{"t":622,"v":589},{"t":629,"v":591},{"t":636,"v":590},{"t":643,"v":592},{"t":650,"v":589},{"t":657,"v":591},{"t":664,"v":590},{"t":671,"v":592},{"t":678,"v":589},{"t":685,"v":591},{"t":692,"v":590},{"t":699,"v":592},{"t":706,"v":589},{"t":713,"v":591},{"t":720,"v":590},{"t":727,"v":591},{"t":731,"v":590},{"t":733,"v":575},{"t":735,"v":602},{"t":737,"v":589},{"t":741,"v":591},{"t":748,"v":590},{"t":755,"v":591},{"t":760,"v":588},{"t":762,"v":584},{"t":764,"v":595},{"t":766,"v":590},{"t":772,"v":591},{"t":779,"v":589},{"t":786,"v":591},{"t":793,"v":590},{"t":800,"v":592},{"t":807,"v":589},{"t":814,"v":591},{"t":821,"v":590},{"t":828,"v":592},{"t":835,"v":589},{"t":842,"v":591},{"t":849,"v":590},{"t":856,"v":592},{"t":863,"v":589},{"t":870,"v":591},{"t":877,"v":590},{"t":884,"v":592},{"t":891,"v":589},{"t":898,"v":591},{"t":905,"v":590},{"t":912,"v":592},{"t":919,"v":590},{"t":923,"v":590},{"t":925,"v":572},{"t":927,"v":601},{"t":929,"v":588},{"t":933,"v":591},{"t":940,"v":590},{"t":947,"v":592},{"t":954,"v":589},{"t":961,"v":591},{"t":968,"v":590},{"t":976,"v":591}
],
"ticks": [{"t":210},{"t":243},{"t":277},{"t":310},{"t":343},{"t":377},{"t":410},{"t":443},{"t":477},{"t":511},{"t":544},{"t":577},{"t":611},{"t":644},{"t":678},{"t":711},{"t":744},{"t":778},{"t":811},{"t":844},{"t":878},{"t":911},{"t":944}],
"spikes": [{"t":341,"v":35,"v2":95},{"t":341,"v":130,"v2":200},{"t":341,"v":240,"v2":262},{"t":341,"v":330,"v2":420},{"t":341,"v":440,"v2":480},{"t":343,"v":592,"v2":628}],
"arrows": [
{"a":"a1","o":1,"t":330,"v":380},{"a":"a1","o":2,"t":397,"v":380},
{"a":"a1h","o":1,"t":385,"v":372.5},{"a":"a1h","o":2,"t":398,"v":380},{"a":"a1h","o":3,"t":385,"v":387.5},
{"a":"a2","o":1,"t":538,"v":566},{"a":"a2","o":2,"t":604,"v":566},
{"a":"a2h","o":1,"t":591,"v":558.5},{"a":"a2h","o":2,"t":605,"v":566},{"a":"a2h","o":3,"t":591,"v":573.5}
],
"notes": [{"t":362,"v":363,"txt":"205 msec"},{"t":539,"v":619,"txt":"205 msec"}],
"leads": [{"name":"I","v":36},{"name":"II","v":77},{"name":"III","v":126},{"name":"aVR","v":177},{"name":"aVL","v":223},{"name":"aVF","v":272},{"name":"V1","v":326},{"name":"V2","v":363},{"name":"V3","v":411},{"name":"V4","v":458},{"name":"V5","v":506},{"name":"V6","v":553}]
},
"layer": [
{"mark": {"type": "rule", "stroke": "#bdbdbd", "strokeWidth": 5, "strokeDash": [1, 2.35]},
 "encoding": {"x": {"datum": 196, "type": "quantitative", "scale": {"domain": [195, 976], "nice": false, "zero": false}, "axis": null},
  "x2": {"datum": 976}, "y": {"datum": 18.5, "type": "quantitative", "scale": {"domain": [15, 628], "nice": false, "zero": false, "reverse": true}, "axis": null}}},
{"data": {"name": "ticks"}, "mark": {"type": "rule", "stroke": "#a0a0a0", "strokeWidth": 1.2},
 "encoding": {"x": {"field": "t", "type": "quantitative", "scale": {"domain": [195, 976], "nice": false, "zero": false}, "axis": null},
  "y": {"datum": 15, "type": "quantitative", "scale": {"domain": [15, 628], "nice": false, "zero": false, "reverse": true}, "axis": null}, "y2": {"datum": 23}}},
{"mark": {"type": "rule", "stroke": "#a0a0a0", "strokeWidth": 2.2},
 "encoding": {"x": {"datum": 195, "type": "quantitative", "scale": {"domain": [195, 976], "nice": false, "zero": false}, "axis": null},
  "x2": {"datum": 976}, "y": {"datum": 16, "type": "quantitative", "scale": {"domain": [15, 628], "nice": false, "zero": false, "reverse": true}, "axis": null}}},
{"data": {"name": "ecg"}, "mark": {"type": "line", "stroke": "#8e8e8e", "strokeWidth": 1.3, "clip": true},
 "encoding": {"x": {"field": "t", "type": "quantitative", "scale": {"domain": [195, 976], "nice": false, "zero": false}, "axis": null},
  "y": {"field": "v", "type": "quantitative", "scale": {"domain": [15, 628], "nice": false, "zero": false, "reverse": true}, "axis": null},
  "detail": {"field": "s", "type": "nominal"}}},
{"data": {"name": "map"}, "mark": {"type": "line", "stroke": "#777777", "strokeWidth": 1.3, "clip": true},
 "encoding": {"x": {"field": "t", "type": "quantitative", "scale": {"domain": [195, 976], "nice": false, "zero": false}, "axis": null},
  "y": {"field": "v", "type": "quantitative", "scale": {"domain": [15, 628], "nice": false, "zero": false, "reverse": true}, "axis": null}}},
{"data": {"name": "spikes"}, "mark": {"type": "rule", "stroke": "#7a7a7a", "strokeWidth": 1.3},
 "encoding": {"x": {"field": "t", "type": "quantitative", "scale": {"domain": [195, 976], "nice": false, "zero": false}, "axis": null},
  "y": {"field": "v", "type": "quantitative", "scale": {"domain": [15, 628], "nice": false, "zero": false, "reverse": true}, "axis": null}, "y2": {"field": "v2"}}},
{"mark": {"type": "rule", "stroke": "#8c8c8c", "strokeWidth": 6},
 "encoding": {"x": {"datum": 333.5, "type": "quantitative", "scale": {"domain": [195, 976], "nice": false, "zero": false}, "axis": null},
  "y": {"datum": 15, "type": "quantitative", "scale": {"domain": [15, 628], "nice": false, "zero": false, "reverse": true}, "axis": null}, "y2": {"datum": 628}}},
{"mark": {"type": "rule", "stroke": "#3c3c3c", "strokeWidth": 1.6},
 "encoding": {"x": {"datum": 332.5, "type": "quantitative", "scale": {"domain": [195, 976], "nice": false, "zero": false}, "axis": null},
  "y": {"datum": 15, "type": "quantitative", "scale": {"domain": [15, 628], "nice": false, "zero": false, "reverse": true}, "axis": null}, "y2": {"datum": 628}}},
{"mark": {"type": "rule", "stroke": "#555555", "strokeWidth": 1.1},
 "encoding": {"x": {"datum": 335.8, "type": "quantitative", "scale": {"domain": [195, 976], "nice": false, "zero": false}, "axis": null},
  "y": {"datum": 15, "type": "quantitative", "scale": {"domain": [15, 628], "nice": false, "zero": false, "reverse": true}, "axis": null}, "y2": {"datum": 628}}},
{"data": {"name": "arrows"}, "mark": {"type": "line", "stroke": "#000000", "strokeWidth": 2.8, "strokeCap": "butt", "strokeJoin": "miter"},
 "encoding": {"x": {"field": "t", "type": "quantitative", "scale": {"domain": [195, 976], "nice": false, "zero": false}, "axis": null},
  "y": {"field": "v", "type": "quantitative", "scale": {"domain": [15, 628], "nice": false, "zero": false, "reverse": true}, "axis": null},
  "detail": {"field": "a", "type": "nominal"},
  "order": {"field": "o", "type": "quantitative"}}},
{"data": {"name": "notes"}, "mark": {"type": "text", "font": "Open Sans", "fontSize": 26.5, "align": "left", "baseline": "alphabetic", "color": "#111111"},
 "encoding": {"x": {"field": "t", "type": "quantitative", "scale": {"domain": [195, 976], "nice": false, "zero": false}, "axis": null},
  "y": {"field": "v", "type": "quantitative", "scale": {"domain": [15, 628], "nice": false, "zero": false, "reverse": true}, "axis": null},
  "text": {"field": "txt"}}},
{"data": {"name": "leads"}, "mark": {"type": "text", "font": "Liberation Serif", "fontWeight": "bold", "fontSize": 28, "align": "left", "baseline": "alphabetic", "color": "#111111"},
 "encoding": {"x": {"datum": 29, "type": "quantitative", "scale": {"domain": [195, 976], "nice": false, "zero": false}, "axis": null},
  "y": {"field": "v", "type": "quantitative", "scale": {"domain": [15, 628], "nice": false, "zero": false, "reverse": true}, "axis": null},
  "text": {"field": "name"}}},
{"mark": {"type": "text", "font": "Liberation Serif", "fontWeight": "bold", "fontSize": 27, "align": "left", "baseline": "alphabetic", "color": "#111111", "text": "Map 1/2"},
 "encoding": {"x": {"datum": 14, "type": "quantitative", "scale": {"domain": [195, 976], "nice": false, "zero": false}, "axis": null},
  "y": {"datum": 592, "type": "quantitative", "scale": {"domain": [15, 628], "nice": false, "zero": false, "reverse": true}, "axis": null}}}
]
}
